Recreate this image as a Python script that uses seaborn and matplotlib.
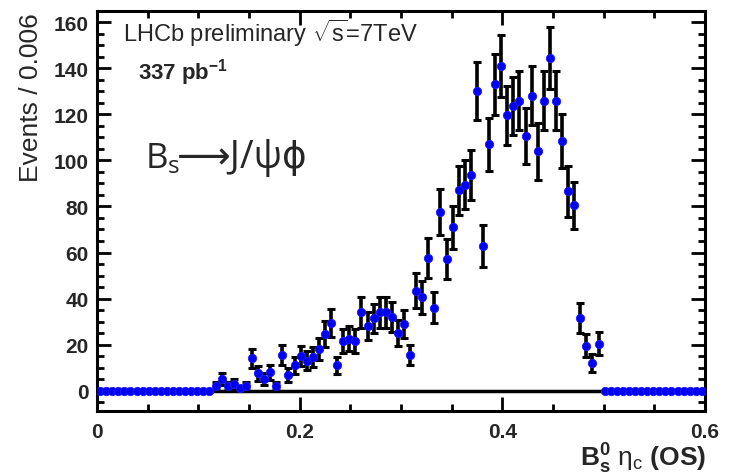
import numpy as np
import pandas as pd
import matplotlib
matplotlib.use("Agg")
import matplotlib.pyplot as plt
from matplotlib.ticker import MultipleLocator
import seaborn as sns

# Binning: 100 bins of width 0.006 between 0 and 0.6
n_bins = 100
bin_width = 0.006
first_filled_bin = 19

# Events per bin for bins 19..82, all other bins are empty
counts = [2, 5, 2, 3, 1, 2, 14, 7.5, 5, 8,
          2, 15.5, 7, 11, 15, 13, 14.5, 18, 24.5, 29.5,
          11, 21.5, 22.5, 21.5, 34, 28, 31.5, 34, 34, 32,
          25, 29, 15.5, 43.5, 40.5, 57.5, 36, 77.5, 57, 71,
          87, 89.5, 93.5, 130, 63, 107, 133, 141, 119.5, 123.5,
          126, 110.5, 128, 104, 126, 144.5, 126, 108.5, 86.5, 80.5,
          31.5, 19.5, 12, 20.5]
errors = [1.6, 2.5, 1.6, 2.0, 1.1, 1.6, 4.3, 3.1, 2.5, 3.2,
          1.6, 4.4, 3.0, 3.7, 4.4, 4.1, 4.3, 4.8, 5.6, 6.1,
          3.7, 5.2, 5.4, 5.2, 6.6, 6.0, 6.3, 6.6, 6.6, 6.4,
          5.7, 6.1, 4.4, 7.5, 7.2, 8.6, 6.8, 9.9, 8.7, 9.3,
          10.6, 10.8, 10.9, 12.6, 9.1, 11.6, 13.2, 13.3, 12.6, 12.6,
          12.7, 12.1, 12.8, 12.3, 12.7, 13.6, 12.7, 11.8, 11.0, 10.3,
          6.5, 5.0, 3.9, 5.1]

x_ticks = [0, 0.2, 0.4, 0.6]
x_ticklabels = ["0", "0.2", "0.4", "0.6"]
y_ticks = [0, 20, 40, 60, 80, 100, 120, 140, 160]

# Full histogram table
centers = np.arange(n_bins) * bin_width + bin_width / 2
full_counts = np.zeros(n_bins)
full_counts[first_filled_bin:first_filled_bin + len(counts)] = counts
hist = pd.DataFrame({"x": centers, "events": full_counts})
filled = hist.iloc[first_filled_bin:first_filled_bin + len(counts)].copy()
filled["err"] = errors

sns.set_style("ticks")
plt.rcParams["font.family"] = ["Liberation Sans", "DejaVu Sans"]
plt.rcParams["mathtext.fontset"] = "custom"
plt.rcParams["mathtext.rm"] = "Liberation Sans"
plt.rcParams["mathtext.it"] = "Liberation Sans:italic"
plt.rcParams["mathtext.bf"] = "Liberation Sans:bold"

fig = plt.figure(figsize=(7.32, 4.77), dpi=100)
ax = fig.add_axes([0.1325, 0.1363, 0.8305, 0.8392])

# black line at zero across the filled range
lo_edge = first_filled_bin * bin_width
hi_edge = (first_filled_bin + len(counts)) * bin_width
ax.plot([lo_edge, hi_edge], [0, 0], color="black", lw=2.5, zorder=1)

ax.errorbar(filled["x"], filled["events"], yerr=filled["err"], fmt="none",
            ecolor="black", elinewidth=2.6, capsize=2.8, capthick=2.2, zorder=2)
sns.scatterplot(data=hist, x="x", y="events", marker="o", s=36,
                color="#0000f0", edgecolor="#1a1aff", linewidth=0.6,
                zorder=3, ax=ax, legend=False)

ax.set_xlim(0, 0.6)
ax.set_ylim(-8.8, 165)
ax.set_xticks(x_ticks, labels=x_ticklabels)
ax.set_yticks(y_ticks)
ax.xaxis.set_minor_locator(MultipleLocator(0.05))
ax.yaxis.set_minor_locator(MultipleLocator(5))
ax.tick_params(which="both", direction="in", top=True, right=True,
               width=2, color="black")
ax.tick_params(which="major", length=10)
ax.tick_params(which="minor", length=5)
ax.tick_params(axis="y", pad=6)
ax.tick_params(axis="x", pad=8)
for lab in ax.get_xticklabels() + ax.get_yticklabels():
    lab.set_fontweight("bold")
    lab.set_fontsize(15)
for sp in ax.spines.values():
    sp.set_linewidth(2.2)
    sp.set_color("black")
ax.set_xlabel("")
ax.set_ylabel("")

fig.text(0.043, 0.9727, "Events / 0.006", rotation=90, ha="center",
         va="top", fontsize=19)
fig.text(0.9645, 0.022, r"$\mathbf{B^0_s}\ \mathrm{\eta_c}$ (OS)",
         ha="right", va="baseline", fontsize=19, fontweight="bold")

ax.text(0.043, 0.945, r"LHCb preliminary $\sqrt{\mathrm{s}}$=7TeV",
        transform=ax.transAxes, ha="left", va="center", fontsize=17)
ax.text(0.067, 0.8475, r"337 pb$^{\mathbf{-1}}$",
        transform=ax.transAxes, ha="left", va="center", fontsize=16,
        fontweight="bold")
# decay label: B_s in Open Sans (mathtext subscript), rest as plain text
ax.text(0.079, 0.61, r"B$_\mathregular{s}$",
        transform=ax.transAxes, ha="left", va="baseline", fontsize=25,
        family="Open Sans")
ax.text(0.132, 0.61, "\u27f6J/\u03c8\u03d5",
        transform=ax.transAxes, ha="left", va="baseline", fontsize=27,
        family=["Open Sans", "DejaVu Sans"])

fig.savefig("out.png", dpi=100)
